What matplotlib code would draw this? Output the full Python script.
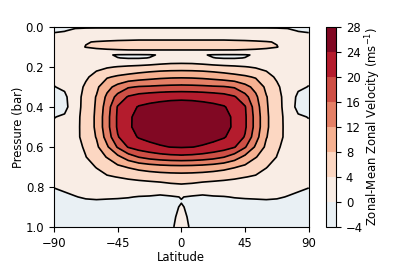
import matplotlib
matplotlib.use("Agg")
import matplotlib.pyplot as plt
import numpy as np

plt.rcParams.update({"font.family": "DejaVu Sans", "font.size": 8.4})

# zonal-mean zonal wind (m/s); the field is ~symmetric
# about the equator so only 0..90 deg is stored and mirrored.
LAT_HALF = [0, 7.5, 15, 22.5, 30, 37.5, 45, 52.5, 60, 67.5, 75, 82.5, 90]
PRESSURE = [0.0, 0.02, 0.05, 0.075, 0.1, 0.12, 0.14, 0.155, 0.175, 0.2, 0.25,
            0.3, 0.35, 0.4, 0.45, 0.5, 0.55, 0.6, 0.65, 0.7, 0.75, 0.8, 0.85,
            0.875, 0.9, 0.95, 1.0]
U_HALF = [
    [-0.5, -0.5, -0.5, -0.5, -0.5, -0.5, -0.5, -0.5, -0.5, -0.5, -0.5, -0.5, -0.5],
    [1.5, 1.5, 1.5, 1.5, 1.5, 1.5, 1.5, 1.5, 1.5, 1.3, 0.8, -0.1, -0.4],
    [3.2, 3.2, 3.2, 3.2, 3.2, 3.1, 3.0, 2.8, 2.5, 2.2, 1.9, 1.4, 1.0],
    [4.5, 4.5, 4.5, 4.5, 4.5, 4.45, 4.4, 4.3, 4.15, 3.85, 3.0, 2.3, 2.0],
    [4.9, 4.9, 4.9, 4.9, 4.9, 4.85, 4.8, 4.65, 4.45, 4.1, 3.0, 2.2, 1.8],
    [3.7, 3.7, 3.7, 3.7, 3.7, 3.7, 3.6, 3.5, 3.3, 2.8, 2.2, 1.8, 1.6],
    [1.8, 1.2, 0.2, -0.25, -0.35, -0.35, -0.25, 0.3, 0.9, 1.2, 1.4, 1.5, 1.5],
    [2.4, 1.8, 0.6, 0.05, -0.15, -0.15, 0.05, 0.6, 1.1, 1.3, 1.5, 1.5, 1.5],
    [3.2, 3.1, 2.6, 1.8, 1.3, 1.2, 1.3, 1.5, 1.6, 1.6, 1.6, 1.5, 1.5],
    [6.0, 5.95, 5.8, 5.5, 5.1, 4.7, 4.2, 3.6, 3.0, 2.5, 2.0, 1.7, 1.5],
    [11.5, 11.4, 11.1, 10.6, 10.0, 9.3, 8.6, 7.6, 5.4, 3.4, 2.2, 1.0, 0.6],
    [17.1, 17.0, 16.8, 16.5, 16.3, 15.6, 13.3, 10.8, 7.2, 4.7, 2.0, 0.5, -0.1],
    [23.3, 23.2, 22.9, 22.4, 21.7, 20.4, 17.4, 12.8, 8.2, 5.6, 2.0, -0.6, -1.0],
    [25.5, 25.4, 25.2, 24.9, 24.3, 22.6, 20.3, 14.0, 8.4, 5.8, 2.0, -0.9, -1.2],
    [26.8, 26.7, 26.5, 26.0, 25.1, 23.4, 20.6, 14.6, 8.6, 5.8, 2.6, 0.4, -0.1],
    [27.0, 26.9, 26.7, 26.2, 25.2, 23.4, 20.6, 14.6, 8.6, 5.8, 2.7, 0.9, 0.5],
    [26.0, 25.9, 25.7, 25.2, 24.3, 22.6, 19.7, 13.6, 8.2, 5.6, 2.8, 1.2, 0.8],
    [24.3, 24.1, 23.6, 22.8, 21.9, 20.3, 16.4, 11.4, 7.2, 4.6, 2.6, 1.4, 1.0],
    [19.0, 18.8, 18.3, 17.5, 16.2, 14.0, 11.0, 8.2, 6.3, 3.9, 2.4, 1.6, 1.2],
    [10.9, 10.8, 10.5, 10.0, 9.3, 8.3, 7.2, 5.8, 4.1, 3.2, 2.5, 1.8, 1.5],
    [6.2, 6.1, 5.9, 5.6, 5.2, 4.7, 4.1, 3.6, 3.2, 2.9, 2.6, 2.2, 2.0],
    [3.1, 2.8, 2.2, 1.9, 1.7, 1.5, 1.3, 1.3, 1.3, 1.1, 0.8, 0.4, 0.1],
    [0.09, -0.31, -0.55, -0.21, -0.1, 0.1, 0.2, 0.3, 0.35, 0.25, -0.09, -0.4, -0.9],
    [-0.1, -0.8, -1.0, -1.0, -0.8, -0.5, -0.4, -0.4, -0.3, -0.4, -0.8, -1.0, -1.2],
    [0.3, -0.9, -1.2, -1.2, -1.1, -1.0, -0.9, -0.9, -0.9, -1.0, -1.1, -1.2, -1.3],
    [0.8, -0.7, -1.2, -1.3, -1.3, -1.2, -1.2, -1.2, -1.2, -1.2, -1.3, -1.4, -1.4],
    [1.2, -0.5, -1.1, -1.2, -1.2, -1.2, -1.2, -1.2, -1.2, -1.2, -1.3, -1.3, -1.4],
]
LEVELS = np.arange(-4, 29, 4)

lat_half = np.array(LAT_HALF)
u_half = np.array(U_HALF)
lat = np.concatenate([-lat_half[:0:-1], lat_half])
u = np.concatenate([u_half[:, :0:-1], u_half], axis=1)
p = np.array(PRESSURE)

fig = plt.figure(figsize=(4.15, 2.67), dpi=100)
ax = fig.add_axes([0.130, 0.150, 0.614, 0.749])
cax = fig.add_axes([0.786, 0.150, 0.024, 0.749])

cf = ax.contourf(lat, p, u, levels=LEVELS, cmap="RdBu_r", vmin=-28, vmax=28)
ax.contour(lat, p, u, levels=LEVELS, colors="k", linewidths=1.2)

ax.set_xlim(-90, 90); ax.set_ylim(1.0, 0.0)
ax.set_xticks([-90, -45, 0, 45, 90])
ax.set_yticks([0.0, 0.2, 0.4, 0.6, 0.8, 1.0])
ax.set_xlabel("Latitude", labelpad=1)
ax.set_ylabel("Pressure (bar)", labelpad=0.5)

cb = fig.colorbar(cf, cax=cax, ticks=LEVELS)
cb.set_label("Zonal-Mean Zonal Velocity (ms$^{-1}$)", labelpad=0)

fig.savefig("out.png", dpi=100, facecolor="white")
plt.close(fig)
